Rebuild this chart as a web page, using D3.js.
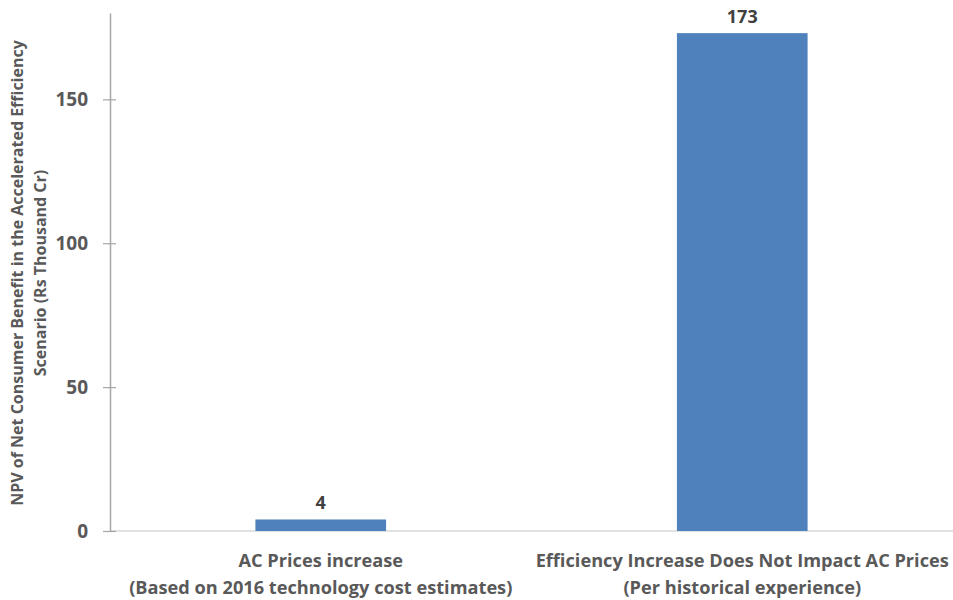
<!DOCTYPE html>
<html>
<head>
<meta charset="utf-8">
<script src="https://cdn.jsdelivr.net/npm/d3@7"></script>
<style>
  body { margin: 0; background: #fff; }
  svg text { font-family: "Open Sans", "Liberation Sans", sans-serif; font-weight: bold; }
</style>
</head>
<body>
<svg id="chart"></svg>
<script>
var categories = [
  ["AC Prices increase", "(Based on 2016 technology cost estimates)"],
  ["Efficiency Increase Does Not Impact AC Prices", "(Per historical experience)"]
];
var values = [4, 173];
var yTicks = [0, 50, 100, 150];
var yTitle = ["NPV of Net Consumer Benefit in the Accelerated Efficiency", "Scenario (Rs Thousand Cr)"];

var width = 953;
var height = 600;
var mLeft = 110;
var mRight = 953;
var mTop = 13;
var mBottom = 531;

var svg = d3.select("#chart")
  .attr("width", width)
  .attr("height", height);

var x = d3.scaleBand()
  .domain(d3.range(values.length))
  .range([mLeft, mRight])
  .paddingInner(0.69)
  .paddingOuter(0.345);

var y = d3.scaleLinear()
  .domain([0, 180])
  .range([mBottom, mTop]);

// baseline
svg.append("line")
  .attr("x1", mLeft)
  .attr("x2", mRight)
  .attr("y1", y(0))
  .attr("y2", y(0))
  .attr("stroke", "#d9d9d9")
  .attr("stroke-width", 1.5);

// y axis
var yAxis = svg.append("g")
  .attr("transform", "translate(" + mLeft + ",0)")
  .call(d3.axisLeft(y).tickValues(yTicks).tickSize(0).tickPadding(22));

yAxis.select(".domain")
  .attr("stroke", "#a6a6a6")
  .attr("stroke-width", 1.5);

yAxis.selectAll(".tick").append("line")
  .attr("x1", -7)
  .attr("x2", 6)
  .attr("stroke", "#a6a6a6")
  .attr("stroke-width", 1.2);

yAxis.selectAll(".tick text")
  .attr("fill", "#595959")
  .style("font-size", "19px");

// bars
svg.selectAll(".bar")
  .data(values)
  .enter().append("rect")
  .attr("class", "bar")
  .attr("x", function(d, i) { return x(i); })
  .attr("y", function(d) { return y(d); })
  .attr("width", x.bandwidth())
  .attr("height", function(d) { return y(0) - y(d); })
  .attr("fill", "#4f81bd");

// value labels
svg.selectAll(".val")
  .data(values)
  .enter().append("text")
  .attr("class", "val")
  .attr("x", function(d, i) { return x(i) + x.bandwidth() / 2; })
  .attr("y", function(d) { return y(d) - 10; })
  .attr("text-anchor", "middle")
  .attr("fill", "#404040")
  .style("font-size", "18px")
  .text(function(d) { return d; });

// category labels
var cat = svg.selectAll(".cat")
  .data(categories)
  .enter().append("text")
  .attr("class", "cat")
  .attr("text-anchor", "middle")
  .attr("fill", "#595959")
  .style("font-size", "18.2px");

cat.selectAll("tspan")
  .data(function(d, i) { return d.map(function(s) { return { s: s, i: i }; }); })
  .enter().append("tspan")
  .attr("x", function(d) { return x(d.i) + x.bandwidth() / 2; })
  .attr("y", function(d, j) { return 567 + j * 27; })
  .text(function(d) { return d.s; });

// y title
var yt = svg.append("text")
  .attr("transform", "translate(0,273) rotate(-90)")
  .attr("text-anchor", "middle")
  .attr("fill", "#595959")
  .style("font-size", "16px");

yt.selectAll("tspan")
  .data(yTitle)
  .enter().append("tspan")
  .attr("x", 0)
  .attr("y", function(d, i) { return 23 + i * 23; })
  .text(function(d) { return d; });
</script>
</body>
</html>
